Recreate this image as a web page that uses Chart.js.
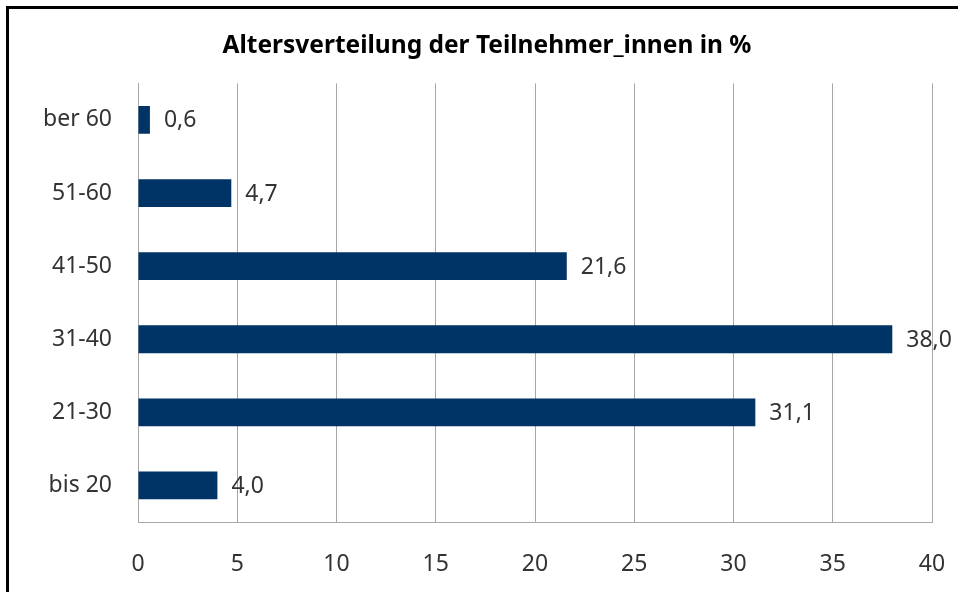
<!DOCTYPE html>
<html>
<head>
<meta charset="utf-8">
<script src="https://cdn.jsdelivr.net/npm/chart.js@4/dist/chart.umd.min.js"></script>
<style>
  html, body { margin: 0; padding: 0; background: #fff; overflow: hidden; }
  #wrap { position: relative; width: 958px; height: 592px; }
  #rahmen { position: absolute; left: 6px; top: 6px; width: 2000px; height: 2000px; border: 3px solid #000; box-sizing: border-box; pointer-events: none; }
  canvas { position: absolute; left: 0; top: 0; }
</style>
</head>
<body>
<div id="wrap">
  <canvas id="alter" width="958" height="592"></canvas>
  <div id="rahmen"></div>
</div>
<script>
// u-Umlaut per Zeichencode
const ue = String.fromCharCode(252);
const kategorien = [ue + "ber 60", "51-60", "41-50", "31-40", "21-30", "bis 20"];
const anteile = [0.6, 4.7, 21.6, 38.0, 31.1, 4.0];
const xTicks = [0, 5, 10, 15, 20, 25, 30, 35, 40];

const schrift = "'Noto Sans', 'DejaVu Sans', sans-serif";

// Werte rechts neben die Balken schreiben
const wertLabels = {
    id: "wertLabels",
    afterDatasetsDraw(chart) {
        const ctx = chart.ctx;
        const meta = chart.getDatasetMeta(0);
        ctx.save();
        ctx.font = "23px " + schrift;
        ctx.fillStyle = "#333333";
        ctx.textAlign = "left";
        ctx.textBaseline = "middle";
        meta.data.forEach(function (bar, i) {
            const text = anteile[i].toFixed(1).replace(".", ",");
            ctx.fillText(text, bar.x + 14, bar.y + 1);
        });
        ctx.restore();
    },
};

new Chart(document.querySelector("#alter").getContext("2d"), {
    type: "bar",
    data: {
        labels: kategorien,
        datasets: [{
            data: anteile,
            backgroundColor: "#003366",
            borderWidth: 0,
            barPercentage: 0.38,
            categoryPercentage: 1,
        }],
    },
    options: {
        indexAxis: "y",
        responsive: false,
        animation: false,
        layout: {
            padding: { left: 42, right: 26, top: 0, bottom: 0 },
        },
        scales: {
            x: {
                min: 0,
                max: 40,
                afterBuildTicks: function (scale) {
                    scale.ticks = xTicks.map(function (v) { return { value: v }; });
                },
                afterFit: function (scale) {
                    scale.height = 70;
                    scale.paddingLeft = 0;
                    scale.paddingRight = 0;
                },
                grid: { color: "#a6a6a6", lineWidth: 1, drawTicks: false },
                border: { color: "#a6a6a6", width: 1 },
                ticks: {
                    padding: 29,
                    color: "#333333",
                    font: { family: schrift, size: 23 },
                },
            },
            y: {
                afterFit: function (scale) {
                    scale.width = 96;
                    scale.paddingTop = 0;
                    scale.paddingBottom = 0;
                },
                grid: { display: false, drawTicks: false },
                border: { color: "#a6a6a6", width: 1 },
                ticks: {
                    padding: 26,
                    color: "#333333",
                    font: { family: schrift, size: 23 },
                },
            },
        },
        plugins: {
            legend: { display: false },
            tooltip: { enabled: false },
            title: {
                display: true,
                text: "Altersverteilung der Teilnehmer_innen in %",
                color: "#000000",
                font: { family: schrift, size: 24.5, weight: "bold" },
                padding: { top: 31, bottom: 23 },
            },
        },
    },
    plugins: [wertLabels],
});
</script>
</body>
</html>
